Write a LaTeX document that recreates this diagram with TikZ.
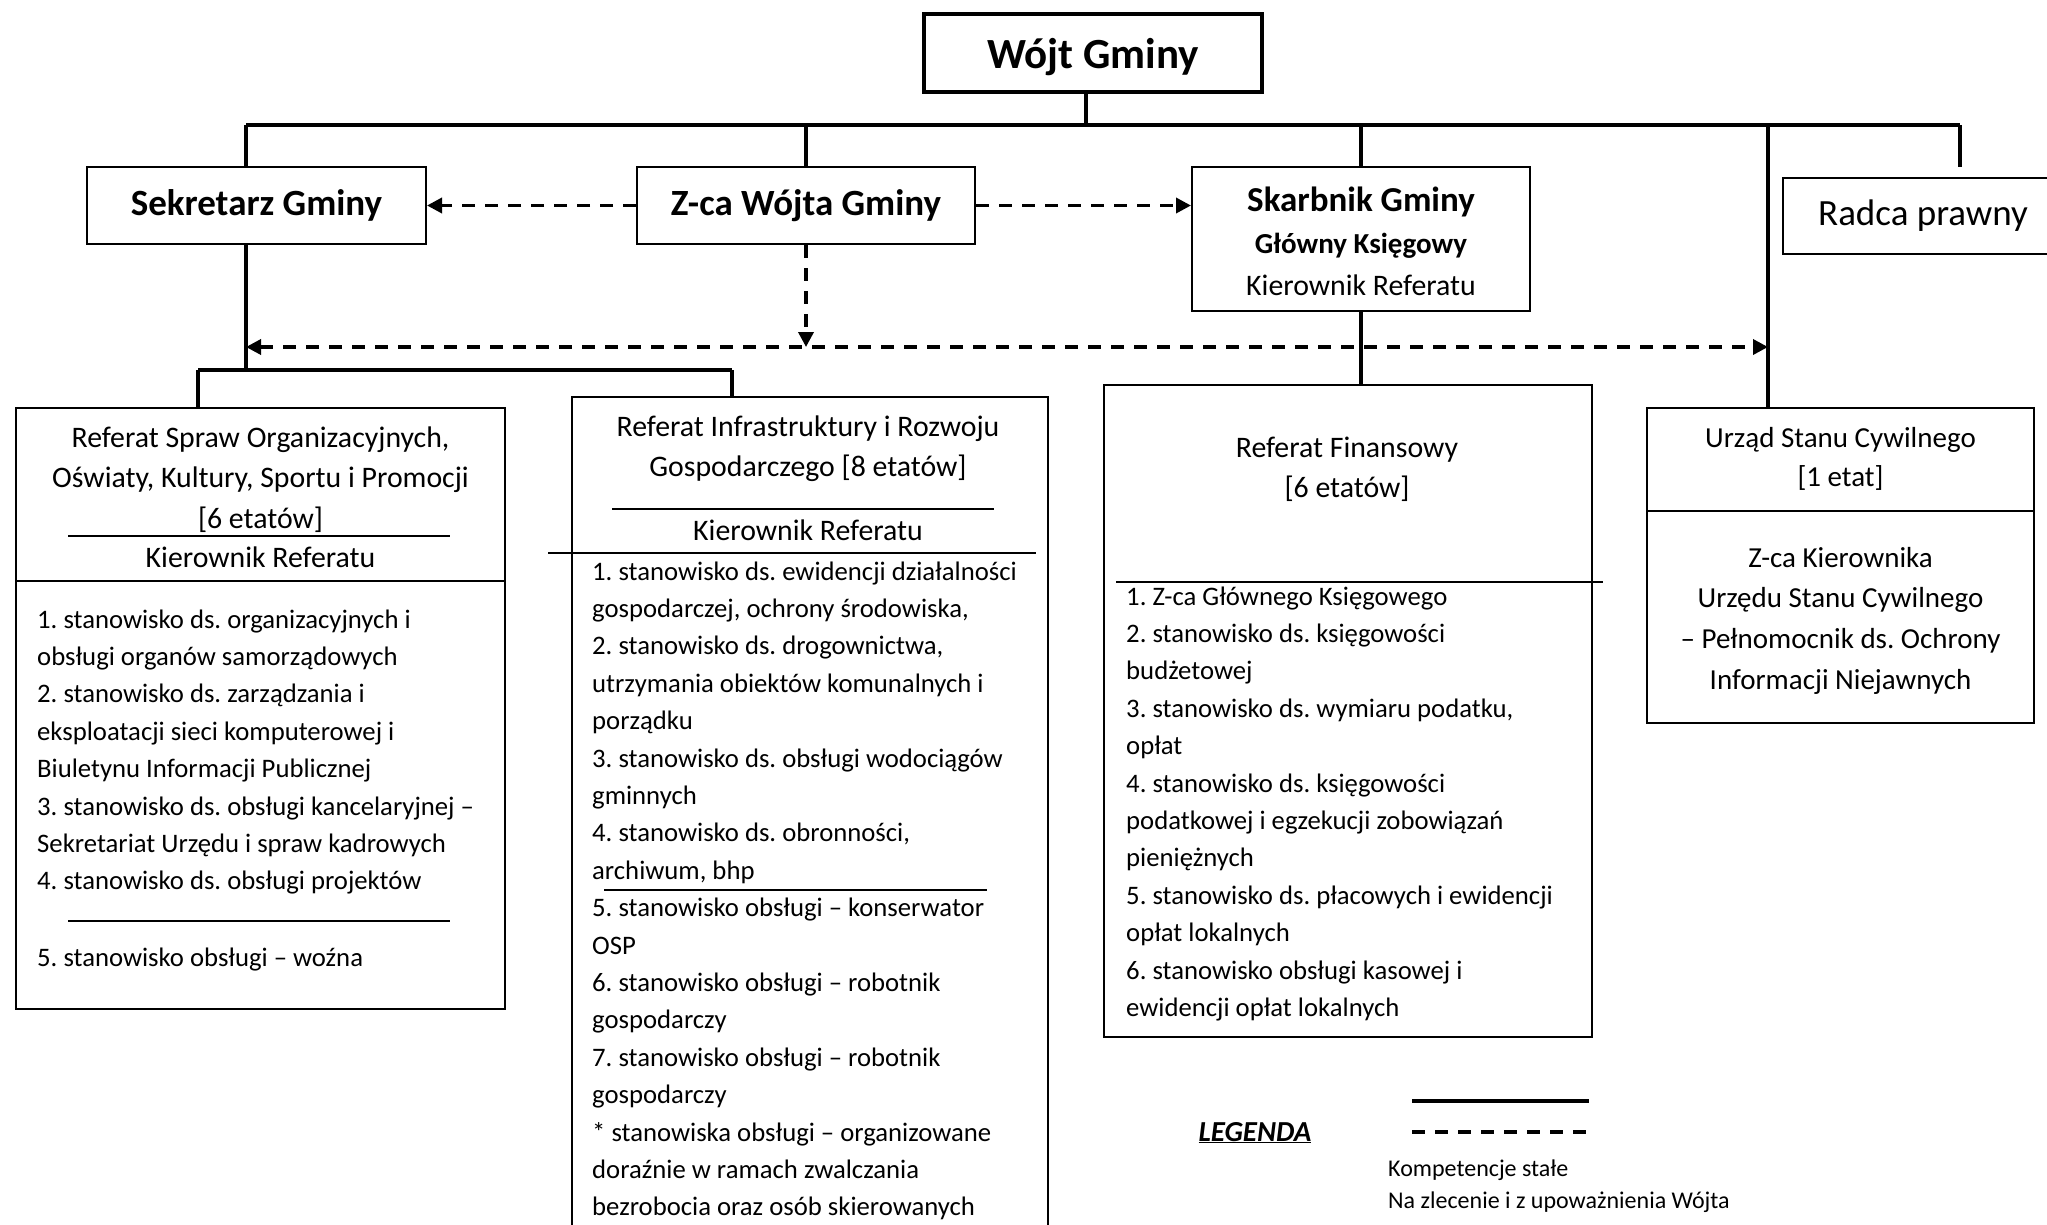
\documentclass[tikz,border=0pt]{standalone}
\usepackage{fontspec}
\setmainfont{Carlito}
\usetikzlibrary{arrows.meta}
\newcommand\bodyf{\fontsize{29.8}{37.4}\selectfont}
\newcommand\listf{\fontsize{26.7}{37.4}\selectfont}
\newcommand\headf{\fontsize{29.8}{40.5}\selectfont}
\newcommand\titlef{\fontsize{37}{44}\selectfont\bfseries}
\begin{document}
\frenchspacing
\begin{tikzpicture}[x=1pt,y=-1pt,
  every node/.append style={execute at begin node=\frenchspacing},
  box/.style={draw, line width=2pt, inner sep=0pt},
  rel/.style={line width=3.5pt},
  busline/.style={line width=4.5pt},
  dashline/.style={line width=3.5pt, dash pattern=on 13pt off 10pt},
  thinrule/.style={line width=1.6pt},
  tip/.style={-{Triangle[length=15pt,width=15pt]}},
  tips/.style={{Triangle[length=15pt,width=15pt]}-{Triangle[length=15pt,width=15pt]}},
  txt/.style={inner sep=0pt, anchor=base},
  lst/.style={inner sep=0pt, anchor=base west, text width=600pt, align=flush left, font=\listf},
  hdr/.style={inner sep=0pt, anchor=base, text width=480pt, align=flush center, font=\headf}]
\useasboundingbox (0,0) rectangle (2047,1224);
\clip (0,0) rectangle (2047,1224);

% top level
\node[box, line width=4pt, minimum width=338pt, minimum height=78pt, text depth=0pt,
      font=\fontsize{43}{50}\selectfont\bfseries] (wojt) at (1093,53) {Wójt Gminy};
\node[box, minimum width=339pt, minimum height=77pt, font=\titlef] (sek) at (256.5,205.5) {Sekretarz Gminy};
\node[box, minimum width=338pt, minimum height=77pt, font=\titlef] (zca) at (806,205.5) {Z-ca Wójta Gminy};
\node[box, minimum width=338pt, minimum height=144pt] (skarb) at (1361,239) {};
\node[txt, font=\fontsize{35}{40}\selectfont\bfseries] (skarb1) at (1361,211) {Skarbnik Gminy};
\node[txt, font=\fontsize{29}{34}\selectfont\bfseries] (skarb2) at (1361,253) {Główny Księgowy};
\node[txt, font=\bodyf] (skarb3) at (1361,295) {Kierownik Referatu};
\node[box, minimum width=280pt, minimum height=76pt, font=\fontsize{37}{44}\selectfont] (radca) at (1923,216) {Radca prawny};

% bus
\coordinate (busL) at (246,125);
\coordinate (busR) at (1960,125);
\coordinate (uscx) at (1768,125);
\coordinate (radcaEnd) at (1960,167);
\draw[busline] (busL) -- (busR);
\draw[rel] ([xshift=-7pt]wojt.south) -- ([xshift=-7pt]wojt.south |- busL);
\draw[rel] (busL) -- (busL |- sek.north);
\draw[rel] (zca.north) -- (zca.north |- busL);
\draw[rel] (skarb.north) -- (skarb.north |- busL);
\draw[rel] (busR) -- (radcaEnd);

% departments
\node[box, minimum width=489pt, minimum height=601pt] (ref1) at (260.5,708.5) {};
\node[box, minimum width=476pt, minimum height=863pt] (ref2) at (810,828.5) {};
\node[box, minimum width=488pt, minimum height=652pt] (ref3) at (1348,711) {};
\node[box, minimum width=387pt, minimum height=315pt] (usc) at (1840.5,565.5) {};

\draw[rel] (uscx) -- (uscx |- usc.north);

% Sekretarz branch
\coordinate (sekDown) at (246,370);
\coordinate (b2L) at (198,370);
\coordinate (b2R) at (732,370);
\draw[rel] (sek.south -| busL) -- (sekDown);
\draw[busline] (b2L) -- (b2R);
\draw[rel] (b2L) -- (b2L |- ref1.north);
\draw[rel] (b2R) -- (b2R |- ref2.north);
\draw[rel] (skarb.south) -- (skarb.south |- ref3.north);

% dashed relations
\coordinate (hdL) at (246,347);
\coordinate (hdR) at (1768,347);
\draw[dashline, tip] (zca.west) -- (sek.east);
\draw[dashline, tip] (zca.east) -- (zca.east -| skarb.west);
\draw[dashline, tip] (zca.south) -- (zca.south |- hdL);
\draw[dashline, tips] (hdL) -- (hdR);

% Referat 1
\node[hdr] (r1h) at (260.5,447) {Referat Spraw Organizacyjnych,\\Oświaty, Kultury, Sportu i Promocji\\{[6 etatów]}};
\draw[thinrule] (68,536) -- (450,536);
\node[txt, font=\bodyf] (r1k) at (260.5,567) {Kierownik Referatu};
\draw[line width=2pt] (16,581) -- (505,581);
\node[lst] (r1l) at (37,628) {1. stanowisko ds. organizacyjnych i\\
obsługi organów samorządowych\\
2. stanowisko ds. zarządzania i\\
eksploatacji sieci komputerowej i\\
Biuletynu Informacji Publicznej\\
3. stanowisko ds. obsługi kancelaryjnej –\\
Sekretariat Urzędu i spraw kadrowych\\
4. stanowisko ds. obsługi projektów};
\draw[thinrule] (68,921) -- (450,921);
\node[lst] (r1w) at (37,966) {5. stanowisko obsługi – woźna};

% Referat 2
\node[hdr] (r2h) at (808,436) {Referat Infrastruktury i Rozwoju\\Gospodarczego {[8 etatów]}};
\draw[thinrule] (612,509) -- (994,509);
\node[txt, font=\bodyf] (r2k) at (808,540) {Kierownik Referatu};
\draw[thinrule] (548,553) -- (1036,553);
\node[lst] (r2l) at (592,580) {1. stanowisko ds. ewidencji działalności\\
gospodarczej, ochrony środowiska,\\
2. stanowisko ds. drogownictwa,\\
utrzymania obiektów komunalnych i\\
porządku\\
3. stanowisko ds. obsługi wodociągów\\
gminnych\\
4. stanowisko ds. obronności,\\
archiwum, bhp\\
5. stanowisko obsługi – konserwator\\
OSP\\
6. stanowisko obsługi – robotnik\\
gospodarczy\\
7. stanowisko obsługi – robotnik\\
gospodarczy\\
{*} stanowiska obsługi – organizowane\\
doraźnie w ramach zwalczania\\
bezrobocia oraz osób skierowanych};
\draw[thinrule] (604,890) -- (987,890);

% Referat 3
\node[hdr] (r3h) at (1347,457) {Referat Finansowy\\{[6 etatów]}};
\draw[thinrule] (1116,582) -- (1603,582);
\node[lst] (r3l) at (1126,605) {1. Z-ca Głównego Księgowego\\
2. stanowisko ds. księgowości\\
budżetowej\\
3. stanowisko ds. wymiaru podatku,\\
opłat\\
4. stanowisko ds. księgowości\\
podatkowej i egzekucji zobowiązań\\
pieniężnych\\
5. stanowisko ds. płacowych i ewidencji\\
opłat lokalnych\\
6. stanowisko obsługi kasowej i\\
ewidencji opłat lokalnych};

% USC
\node[hdr, font=\fontsize{29}{39}\selectfont] (usch) at (1840.5,447) {Urząd Stanu Cywilnego\\{[1 etat]}};
\draw[line width=2pt] (1647,511) -- (2034,511);
\node[hdr, font=\fontsize{29}{40.7}\selectfont] (uscl) at (1840.5,567) {Z-ca Kierownika\\Urzędu Stanu Cywilnego\\– Pełnomocnik ds. Ochrony\\Informacji Niejawnych};

% legend
\node[txt, font=\fontsize{29}{34}\selectfont\bfseries\itshape] (leg) at (1255,1141) {\underline{LEGENDA}};
\coordinate (l1a) at (1412,1101);
\coordinate (l1b) at (1589,1101);
\coordinate (l2a) at (1412,1132);
\coordinate (l2b) at (1589,1132);
\draw[busline] (l1a) -- (l1b);
\draw[dashline, line width=4pt] (l2a) -- (l2b);
\node[inner sep=0pt, anchor=base west, font=\fontsize{24}{30}\selectfont] (leg1) at (1388,1176) {Kompetencje stałe};
\node[inner sep=0pt, anchor=base west, font=\fontsize{24}{30}\selectfont] (leg2) at (1388,1208) {Na zlecenie i z upoważnienia Wójta};
\end{tikzpicture}
\end{document}
